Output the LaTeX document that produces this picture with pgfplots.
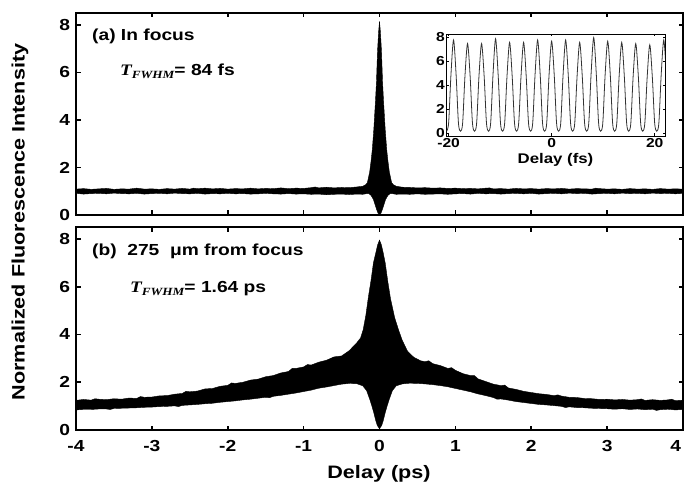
\documentclass[border=0pt]{standalone}
\usepackage{fontspec}
\setmainfont{Liberation Sans}[FakeStretch=1.2]
\newfontfamily\tnr{Liberation Serif}[FakeStretch=1.2]
\usepackage{pgfplots}
\pgfplotsset{compat=1.18}

\pgfplotsset{
  mainax/.style={
    scale only axis, width=607pt,
    xmin=-4, xmax=4, ymin=0, ymax=8.5,
    xtick={-4,-3,-2,-1,0,1,2,3,4},
    ytick={0,2,4,6,8}, yticklabels={0,2,4,6,8},
    tick pos=both, tick align=inside,
    axis line style={line width=1.6pt},
    major tick style={line width=1.6pt, black},
    major tick length=4.5pt,
    tick label style={font=\bfseries\fontsize{16}{18}\selectfont},
    xticklabel style={yshift=-7pt},
    yticklabel style={xshift=-2.5pt},
  },
}

\begin{document}
\begin{tikzpicture}
\useasboundingbox (0,0) rectangle (684pt,487pt);

% (a) in focus
\begin{axis}[mainax, height=202pt, at={(76pt,272pt)}, anchor=south west,
  xticklabels={}]
\addplot[fill=black, draw=black, line width=0.4pt] coordinates {
(-4.00,1.09) (-3.90,1.11) (-3.80,1.08) (-3.70,1.10) (-3.60,1.12) (-3.50,1.08) (-3.40,1.10) (-3.30,1.09) (-3.20,1.13) (-3.10,1.09)
(-3.00,1.10) (-2.90,1.08) (-2.80,1.11) (-2.70,1.09) (-2.60,1.12) (-2.50,1.09) (-2.45,1.13) (-2.40,1.11) (-2.30,1.13) (-2.20,1.10) (-2.10,1.12)
(-2.00,1.09) (-1.90,1.11) (-1.80,1.10) (-1.70,1.13) (-1.60,1.10) (-1.50,1.12) (-1.40,1.11) (-1.30,1.14) (-1.20,1.11) (-1.10,1.13)
(-1.00,1.12) (-0.90,1.15) (-0.85,1.18) (-0.80,1.14) (-0.70,1.17) (-0.60,1.14) (-0.50,1.16) (-0.40,1.15) (-0.30,1.18) (-0.22,1.21) (-0.18,1.28)
(-0.16,1.36) (-0.13,1.8) (-0.11,2.3) (-0.095,2.75) (-0.075,3.6) (-0.053,4.8) (-0.04,5.6) (-0.026,6.9) (-0.012,7.7) (0,8.15)
(0.012,7.7) (0.026,6.9) (0.04,5.6) (0.053,4.8) (0.075,3.6) (0.095,2.75) (0.11,2.3) (0.13,1.8) (0.16,1.36) (0.18,1.28)
(0.22,1.21) (0.30,1.17) (0.40,1.16) (0.50,1.14) (0.60,1.15) (0.70,1.13) (0.80,1.14) (0.90,1.12) (1.00,1.13) (1.10,1.11)
(1.20,1.12) (1.30,1.10) (1.40,1.13) (1.45,1.14) (1.50,1.10) (1.60,1.11) (1.70,1.09) (1.80,1.12) (1.90,1.10) (2.00,1.11) (2.10,1.09)
(2.20,1.11) (2.30,1.10) (2.40,1.12) (2.50,1.09) (2.60,1.11) (2.70,1.10) (2.80,1.09) (2.85,1.13) (2.90,1.11) (3.00,1.09) (3.10,1.10)
(3.20,1.08) (3.30,1.11) (3.40,1.09) (3.50,1.10) (3.60,1.08) (3.70,1.11) (3.80,1.09) (3.90,1.10) (4.00,1.09)
(4.00,0.91) (3.90,0.89) (3.80,0.91) (3.70,0.90) (3.60,0.92) (3.50,0.89) (3.40,0.91) (3.30,0.90) (3.20,0.92) (3.10,0.89)
(3.00,0.91) (2.90,0.90) (2.80,0.88) (2.70,0.91) (2.60,0.90) (2.50,0.92) (2.40,0.89) (2.30,0.91) (2.20,0.90) (2.10,0.88)
(2.00,0.91) (1.90,0.89) (1.80,0.91) (1.70,0.90) (1.60,0.88) (1.50,0.90) (1.40,0.89) (1.30,0.91) (1.20,0.88) (1.10,0.90)
(1.00,0.89) (0.90,0.87) (0.80,0.89) (0.70,0.88) (0.60,0.87) (0.50,0.89) (0.40,0.87) (0.30,0.88) (0.22,0.87) (0.17,0.9)
(0.14,0.9) (0.11,0.82) (0.08,0.65) (0.06,0.45) (0.04,0.25) (0.02,0.08) (0,0.02) (-0.02,0.08) (-0.04,0.25) (-0.06,0.45)
(-0.08,0.65) (-0.11,0.82) (-0.14,0.9) (-0.17,0.9) (-0.22,0.87) (-0.30,0.88) (-0.40,0.86) (-0.50,0.88) (-0.60,0.87) (-0.70,0.85)
(-0.80,0.88) (-0.90,0.87) (-1.00,0.89) (-1.10,0.88) (-1.20,0.90) (-1.30,0.88) (-1.40,0.89) (-1.50,0.91) (-1.60,0.89) (-1.70,0.88)
(-1.80,0.90) (-1.90,0.89) (-2.00,0.91) (-2.10,0.89) (-2.20,0.90) (-2.30,0.88) (-2.40,0.91) (-2.50,0.89) (-2.60,0.90) (-2.70,0.92)
(-2.80,0.89) (-2.90,0.91) (-3.00,0.90) (-3.10,0.88) (-3.20,0.91) (-3.30,0.89) (-3.40,0.90) (-3.50,0.92) (-3.60,0.89) (-3.70,0.91)
(-3.80,0.90) (-3.90,0.88) (-4.00,0.91)
};
\end{axis}

% (b) 275 um from focus
\begin{axis}[mainax, height=203pt, at={(76pt,57pt)}, anchor=south west,
  xticklabels={-4,-3,-2,-1,0,1,2,3,{\makebox[0pt][r]{4}\kern4pt}}]
\addplot[fill=black, draw=black, line width=0.4pt] coordinates {
(-4.00,1.24) (-3.90,1.28) (-3.80,1.25) (-3.75,1.31) (-3.70,1.29) (-3.60,1.27) (-3.50,1.31) (-3.40,1.29) (-3.30,1.34) (-3.20,1.32) (-3.15,1.40) (-3.10,1.37)
(-3.00,1.38) (-2.90,1.43) (-2.80,1.44) (-2.70,1.50) (-2.60,1.53) (-2.55,1.62) (-2.50,1.60) (-2.40,1.63) (-2.30,1.72) (-2.20,1.74) (-2.10,1.83)
(-2.00,1.87) (-1.95,1.97) (-1.90,1.95) (-1.80,2.00) (-1.70,2.09) (-1.60,2.13) (-1.50,2.23) (-1.40,2.28) (-1.30,2.39) (-1.20,2.45) (-1.15,2.58) (-1.10,2.58)
(-1.00,2.64) (-0.95,2.74) (-0.90,2.72) (-0.80,2.84) (-0.70,2.92) (-0.60,3.06) (-0.50,3.10) (-0.40,3.32) (-0.30,3.65) (-0.25,3.85) (-0.215,4.2)
(-0.18,4.8) (-0.145,5.6) (-0.11,6.3) (-0.08,7.0) (-0.05,7.4) (-0.025,7.75) (0,7.95) (0.025,7.75) (0.05,7.4) (0.075,7.0)
(0.11,6.2) (0.145,5.5) (0.2,4.7) (0.25,4.2) (0.30,3.75) (0.37,3.3) (0.45,3.05) (0.54,2.9) (0.60,2.86) (0.65,2.90) (0.70,2.78)
(0.80,2.70) (0.90,2.58) (0.95,2.61) (1.00,2.50) (1.10,2.36) (1.20,2.28) (1.25,2.28) (1.30,2.14) (1.40,2.03) (1.50,1.92) (1.60,1.86) (1.65,1.88) (1.70,1.76)
(1.80,1.70) (1.90,1.62) (2.00,1.57) (2.10,1.52) (2.20,1.49) (2.30,1.44) (2.35,1.47) (2.40,1.42) (2.50,1.37) (2.60,1.36) (2.70,1.32)
(2.80,1.31) (2.90,1.28) (3.00,1.29) (3.10,1.26) (3.20,1.28) (3.30,1.25) (3.40,1.27) (3.45,1.30) (3.50,1.24) (3.60,1.27) (3.70,1.24)
(3.80,1.26) (3.85,1.29) (3.90,1.23) (4.00,1.25)
(4.00,0.86) (3.90,0.84) (3.80,0.87) (3.70,0.85) (3.65,0.82) (3.60,0.87) (3.50,0.85) (3.40,0.88) (3.30,0.86) (3.20,0.89) (3.10,0.87)
(3.00,0.89) (2.90,0.90) (2.80,0.91) (2.70,0.93) (2.60,0.94) (2.50,0.97) (2.45,0.94) (2.40,0.99) (2.30,1.02) (2.20,1.05) (2.10,1.07)
(2.00,1.11) (1.90,1.15) (1.80,1.19) (1.70,1.25) (1.60,1.30) (1.55,1.29) (1.50,1.36) (1.40,1.44) (1.30,1.51) (1.20,1.60) (1.10,1.67)
(1.00,1.74) (0.90,1.81) (0.80,1.86) (0.70,1.90) (0.60,1.93) (0.50,1.95) (0.40,1.96) (0.30,1.93) (0.22,1.85) (0.17,1.65)
(0.13,1.3) (0.10,1.0) (0.075,0.72) (0.05,0.4) (0.03,0.2) (0,0.05) (-0.03,0.2) (-0.05,0.4) (-0.075,0.72) (-0.10,1.0)
(-0.13,1.3) (-0.17,1.65) (-0.22,1.85) (-0.30,1.94) (-0.40,1.95) (-0.50,1.92) (-0.60,1.86) (-0.70,1.80) (-0.80,1.75) (-0.90,1.67)
(-1.00,1.61) (-1.10,1.55) (-1.20,1.50) (-1.30,1.45) (-1.40,1.41) (-1.45,1.35) (-1.50,1.37) (-1.60,1.33) (-1.70,1.29) (-1.80,1.26) (-1.90,1.22)
(-2.00,1.19) (-2.10,1.16) (-2.20,1.12) (-2.30,1.10) (-2.40,1.07) (-2.50,1.05) (-2.60,1.03) (-2.65,0.98) (-2.70,1.01) (-2.80,0.99) (-2.90,0.98)
(-3.00,0.96) (-3.10,0.95) (-3.20,0.93) (-3.30,0.92) (-3.40,0.91) (-3.50,0.90) (-3.55,0.86) (-3.60,0.88) (-3.70,0.88) (-3.80,0.86) (-3.90,0.86)
(-4.00,0.84)
};
\end{axis}

% inset: fringes in fs
\begin{axis}[scale only axis, width=219pt, height=102pt, at={(446pt,351pt)}, anchor=south west,
  xmin=-20.5, xmax=22, ymin=-0.2, ymax=8.3,
  xtick={-20,0,20}, xticklabels={-20,0,20},
  ytick={0,2,4,6,8}, yticklabels={0,2,4,6,8},
  tick pos=both, tick align=inside,
  axis line style={line width=0.9pt},
  major tick style={line width=0.8pt, black}, major tick length=2.5pt,
  axis background/.style={fill=white},
  tick label style={font=\bfseries\fontsize{13}{14}\selectfont},
  xticklabel style={inner sep=1pt, yshift=-1.5pt},
  yticklabel style={inner sep=1pt, yshift=1pt},
  xlabel={Delay (fs)},
  xlabel style={font=\bfseries\fontsize{14}{16}\selectfont, inner sep=1pt, yshift=-3pt},
]
\addplot[smooth, line width=0.8pt, black!80] coordinates {
(-20.40,0.2) (-19.99,0.9) (-19.54,4.9) (-19.04,7.8) (-18.54,4.9) (-18.09,0.9)
(-17.68,0.2) (-17.27,0.9) (-16.82,4.8) (-16.32,7.5) (-15.82,4.8) (-15.37,0.9)
(-14.96,0.2) (-14.55,0.9) (-14.10,4.8) (-13.60,7.5) (-13.10,4.8) (-12.65,0.9)
(-12.24,0.2) (-11.83,0.9) (-11.38,4.9) (-10.88,7.9) (-10.38,4.9) (-9.93,0.9)
(-9.52,0.2) (-9.11,0.9) (-8.66,4.8) (-8.16,7.6) (-7.66,4.8) (-7.21,0.9)
(-6.80,0.2) (-6.39,0.9) (-5.94,4.8) (-5.44,7.6) (-4.94,4.8) (-4.49,0.9)
(-4.08,0.2) (-3.67,0.9) (-3.22,4.9) (-2.72,7.8) (-2.22,4.9) (-1.77,0.9)
(-1.36,0.2) (-0.95,0.9) (-0.50,4.9) (0,7.7) (0.50,4.9) (0.95,0.9)
(1.36,0.2) (1.77,0.9) (2.22,4.9) (2.72,7.8) (3.22,4.9) (3.67,0.9)
(4.08,0.2) (4.49,0.9) (4.94,4.8) (5.44,7.6) (5.94,4.8) (6.39,0.9)
(6.80,0.2) (7.21,0.9) (7.66,5.0) (8.16,8.0) (8.66,5.0) (9.11,0.9)
(9.52,0.2) (9.93,0.9) (10.38,4.9) (10.88,7.7) (11.38,4.9) (11.83,0.9)
(12.24,0.2) (12.65,0.9) (13.10,4.8) (13.60,7.6) (14.10,4.8) (14.55,0.9)
(14.96,0.2) (15.37,0.9) (15.82,4.8) (16.32,7.5) (16.82,4.8) (17.27,0.9)
(17.68,0.2) (18.09,0.9) (18.54,4.7) (19.04,7.4) (19.54,4.7) (19.99,0.9)
(20.40,0.2) (20.81,0.9) (21.26,4.9) (21.76,7.8) (22.26,4.9)
};
\end{axis}

% annotations and shared labels
\node[anchor=base west, font=\bfseries\fontsize{16}{18}\selectfont, inner sep=0pt] at (92pt,446pt) {(a) In focus};
\node[anchor=base west, inner sep=0pt] at (120pt,411pt)
  {{\tnr\bfseries\itshape\fontsize{16}{18}\selectfont T\lower3pt\hbox{\fontsize{11}{12}\selectfont FWHM}}{\bfseries\fontsize{16}{18}\selectfont = 84 fs}};
\node[anchor=base west, font=\bfseries\fontsize{16}{18}\selectfont, inner sep=0pt] at (92pt,231pt) {(b)\ \ 275\ \ μm from focus};
\node[anchor=base west, inner sep=0pt] at (130pt,194pt)
  {{\tnr\bfseries\itshape\fontsize{16}{18}\selectfont T\lower3pt\hbox{\fontsize{11}{12}\selectfont FWHM}}{\bfseries\fontsize{16}{18}\selectfont = 1.64 ps}};
\node[rotate=90, font=\bfseries\fontsize{18}{20}\selectfont, inner sep=0pt] at (20pt,265pt) {Normalized Fluorescence Intensity};
\node[anchor=base, font=\bfseries\fontsize{18}{20}\selectfont, inner sep=0pt] at (379pt,9pt) {Delay (ps)};
\end{tikzpicture}
\end{document}
